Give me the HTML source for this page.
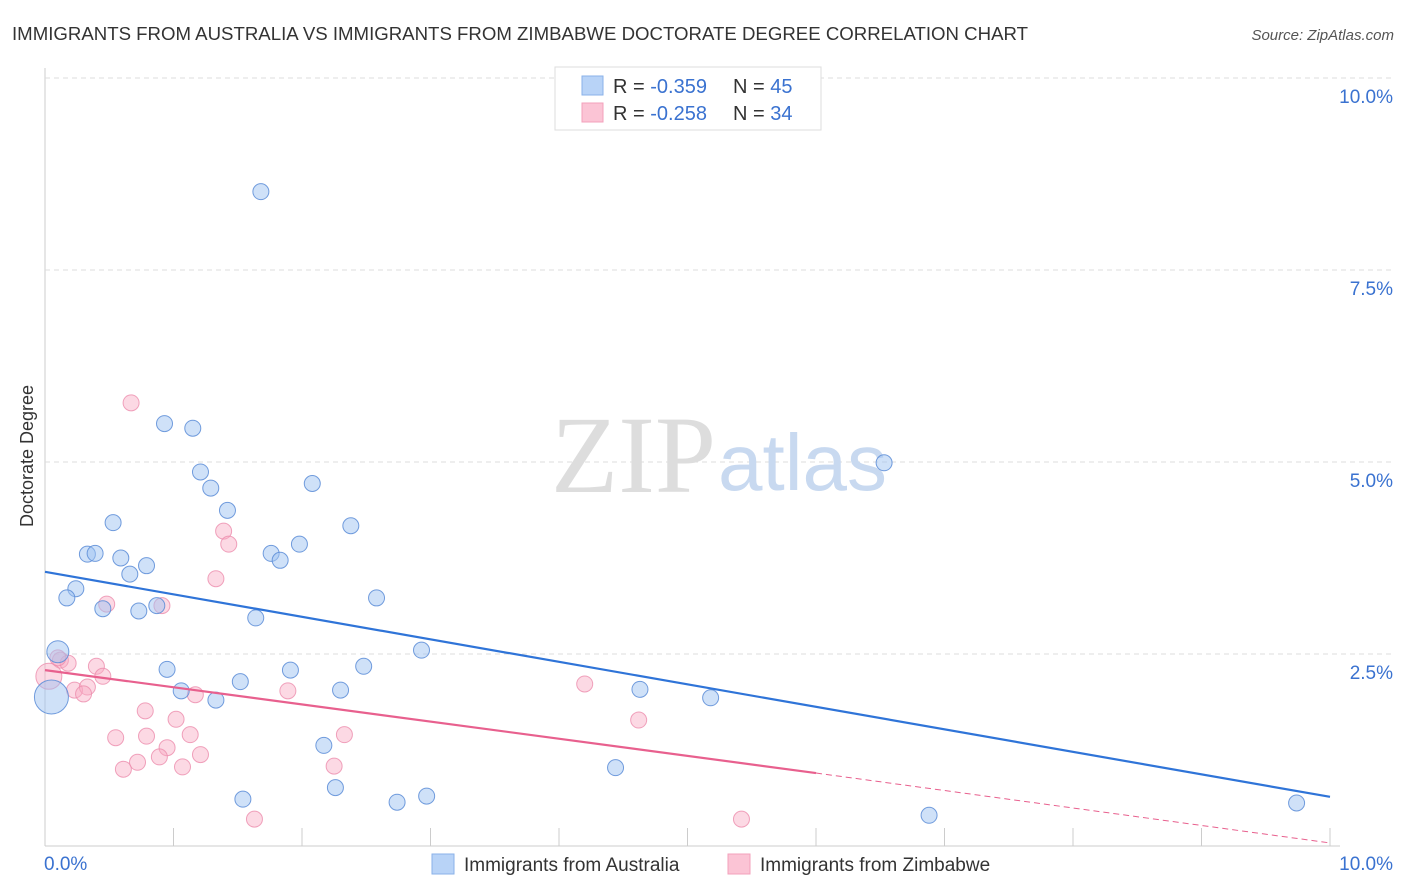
<!DOCTYPE html>
<html><head><meta charset="utf-8"><style>
body{margin:0;background:#fff;font-family:"Liberation Sans",sans-serif}
svg{display:block}
</style></head><body>
<svg id="c" width="1406" height="892">
<text x="12" y="40" font-size="18.5" fill="#333" textLength="1016" lengthAdjust="spacingAndGlyphs">IMMIGRANTS FROM AUSTRALIA VS IMMIGRANTS FROM ZIMBABWE DOCTORATE DEGREE CORRELATION CHART</text>
<text x="1394" y="40" font-size="15" fill="#555" font-style="italic" text-anchor="end">Source: ZipAtlas.com</text>
<text x="0" y="0" transform="translate(33,456) rotate(-90)" font-size="18" fill="#333" text-anchor="middle">Doctorate Degree</text>
<g id="grid"></g>
<text x="716" y="492" font-size="110" fill="#ddd" text-anchor="end" font-family="Liberation Serif,serif">ZIP</text>
<text x="718" y="490" font-size="80" fill="#c8d9f0">atlas</text>
<g id="pts"></g>
<g id="lines"></g>
<g>
<rect x="555" y="67" width="266" height="63" fill="#fff" stroke="#ddd"/>
<rect x="582" y="76" width="21" height="19" fill="#b8d3f7" stroke="#8ab1e8"/>
<rect x="582" y="103" width="21" height="19" fill="#fbc4d5" stroke="#f3a0bb"/>
<text x="613" y="93" font-size="20" fill="#333">R = <tspan fill="#3a72d0">-0.359</tspan><tspan x="733">N = </tspan><tspan fill="#3a72d0">45</tspan></text>
<text x="613" y="120" font-size="20" fill="#333">R = <tspan fill="#3a72d0">-0.258</tspan><tspan x="733">N = </tspan><tspan fill="#3a72d0">34</tspan></text>
</g>
<g>
<rect x="432" y="854" width="22" height="20" fill="#b8d3f7" stroke="#8ab1e8"/>
<text x="464" y="871" font-size="19" fill="#333">Immigrants from Australia</text>
<rect x="728" y="854" width="22" height="20" fill="#fbc4d5" stroke="#f3a0bb"/>
<text x="760" y="871" font-size="19" fill="#333">Immigrants from Zimbabwe</text>
</g>
</svg>
<script>
const yTicks=[2.5,5.0,7.5,10.0];
const yTickLabels=["2.5%","5.0%","7.5%","10.0%"];
const xTickLabels=["0.0%","10.0%"];
const ausX=[1.68,0.93,1.15,1.21,1.29,2.08,1.42,0.53,2.38,0.33,0.39,0.59,1.76,1.83,1.98,0.79,0.66,0.24,0.17,2.58,0.45,0.73,0.87,1.64,0.10,2.93,0.95,1.91,2.48,1.52,1.06,2.30,1.33,4.63,5.18,6.53,2.17,4.44,1.54,2.26,2.74,2.97,6.88,9.74,0.05];
const ausY=[8.52,5.50,5.44,4.87,4.66,4.72,4.37,4.21,4.17,3.80,3.81,3.75,3.81,3.72,3.93,3.65,3.54,3.35,3.23,3.23,3.09,3.06,3.13,2.97,2.53,2.55,2.30,2.29,2.34,2.14,2.02,2.03,1.90,2.04,1.93,4.99,1.31,1.02,0.61,0.76,0.57,0.65,0.40,0.56,1.94];
const ausR=[8,8,8,8,8,8,8,8,8,8,8,8,8,8,8,8,8,8,8,8,8,8,8,8,11,8,8,8,8,8,8,8,8,8,8,8,8,8,8,8,8,8,8,8,17];
const zimX=[0.67,1.39,1.43,1.33,0.48,0.91,0.12,0.18,0.40,0.03,0.45,0.23,0.33,0.30,1.17,1.89,4.20,0.78,1.02,4.62,0.55,0.79,1.13,2.33,0.95,1.21,0.89,0.72,0.61,1.07,2.25,1.63,5.42,0.10];
const zimY=[5.77,4.10,3.93,3.48,3.15,3.13,2.42,2.38,2.34,2.21,2.21,2.03,2.07,1.98,1.97,2.02,2.11,1.76,1.65,1.64,1.41,1.43,1.45,1.45,1.28,1.19,1.16,1.09,1.00,1.03,1.04,0.35,0.35,2.45];
const zimR=[8,8,8,8,8,8,8,8,8,13,8,8,8,8,8,8,8,8,8,8,8,8,8,8,8,8,8,8,8,8,8,8,8,8];
const ausLine=[3.57,0.64];
const zimLine=[2.29,0.95,0.04];
const zimSolidEnd=6.0;
const X0=45,X1=1330,Y0=846,Y1=78;
const sx=v=>X0+(X1-X0)*v/10, sy=v=>Y0-(Y0-Y1)*v/10;
const NS="http://www.w3.org/2000/svg";
function mk(t,a,p){const e=document.createElementNS(NS,t);for(const k in a)e.setAttribute(k,a[k]);p.appendChild(e);return e;}
const g=document.getElementById('grid');
const ax=mk('line',{x1:X0,y1:68,x2:X0,y2:Y0,stroke:'#ccc'},g);


const bx=mk('line',{x1:X0,y1:Y0,x2:X1+10,y2:Y0,stroke:'#ccc'},g);


yTicks.forEach((t,i)=>{
 const l=mk('line',{x1:X0,y1:sy(t),x2:1395,y2:sy(t),stroke:'#ddd','stroke-dasharray':'5,4'},g);
 
 
 const tx=mk('text',{x:1393,y:sy(t)+25,'font-size':19,fill:'#3a72d0','text-anchor':'end'},g);
 tx.textContent=yTickLabels[i];
 
 
});
for(let i=1;i<=10;i++){
 const l=mk('line',{x1:sx(i),y1:Y0-18,x2:sx(i),y2:Y0,stroke:'#ccc'},g);
 
 
}
[[0,44,'start'],[1,1393,'end']].forEach(([i,x,a])=>{
 const t=mk('text',{x:x,y:870,'font-size':19,fill:'#3a72d0','text-anchor':a},g);
 t.textContent=xTickLabels[i];
 
 
});
const p=document.getElementById('pts');
zimX.forEach((x,i)=>{
 const c=mk('circle',{cx:sx(x),cy:sy(zimY[i]),r:zimR[i],fill:'rgba(248,170,196,0.45)',stroke:'rgba(236,140,172,0.8)','stroke-width':1},p);
 
 
});
ausX.forEach((x,i)=>{
 const c=mk('circle',{cx:sx(x),cy:sy(ausY[i]),r:ausR[i],fill:'rgba(160,196,242,0.5)',stroke:'rgba(90,140,215,0.85)','stroke-width':1},p);
 
 
});
const L=document.getElementById('lines');
const b=mk('line',{x1:sx(0),y1:sy(ausLine[0]),x2:sx(10),y2:sy(ausLine[1]),stroke:'#2f74d8','stroke-width':2.2},L);


const z=mk('line',{x1:sx(0),y1:sy(zimLine[0]),x2:sx(zimSolidEnd),y2:sy(zimLine[1]),stroke:'#e8608e','stroke-width':2.2},L);


const zd=mk('line',{x1:sx(zimSolidEnd),y1:sy(zimLine[1]),x2:sx(10),y2:sy(zimLine[2]),stroke:'#e8608e','stroke-width':1,'stroke-dasharray':'6,4'},L);


</script>
</body></html>
